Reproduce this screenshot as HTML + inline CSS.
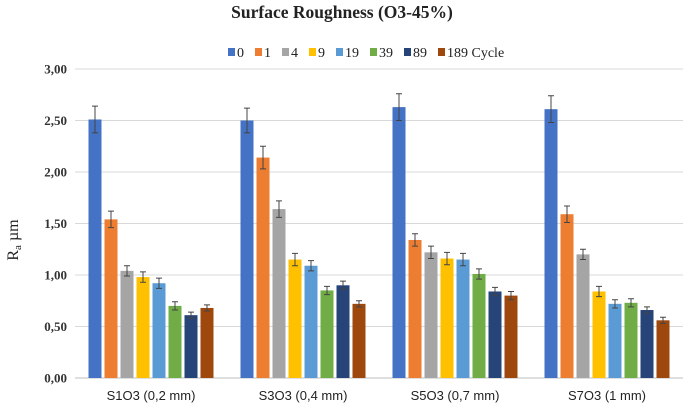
<!DOCTYPE html>
<html><head><meta charset="utf-8"><style>
body{margin:0;background:#fff;}
svg{display:block;font-family:"Liberation Serif",serif;}
</style></head><body>
<svg id="c" width="685" height="405">
<text x="342" y="18" text-anchor="middle" font-size="17.5" font-weight="bold" fill="#222">Surface Roughness (O3-45%)</text>
<g id="legend"></g>
<g id="grid"></g>
<g id="bars"></g>
<text transform="translate(18,240) rotate(-90)" text-anchor="middle" font-size="16" fill="#222">R<tspan font-size="11" dy="3">a</tspan><tspan dy="-3"> µm</tspan></text>
</svg>
<script>
const categories=["S1O3 (0,2 mm)","S3O3 (0,4 mm)","S5O3 (0,7 mm)","S7O3 (1 mm)"];
const seriesNames=["0","1","4","9","19","39","89","189 Cycle"];
const colors=["#4472c4","#ed7d31","#a5a5a5","#ffc000","#5b9bd5","#70ad47","#264478","#9e480e"];
const values=[
[2.51,1.54,1.04,0.98,0.92,0.70,0.61,0.68],
[2.50,2.14,1.64,1.15,1.09,0.85,0.90,0.72],
[2.63,1.34,1.22,1.16,1.15,1.01,0.84,0.80],
[2.61,1.59,1.20,0.84,0.72,0.73,0.66,0.56]];
const errors=[
[0.13,0.08,0.05,0.05,0.05,0.04,0.03,0.03],
[0.12,0.11,0.08,0.06,0.05,0.04,0.04,0.03],
[0.13,0.06,0.06,0.06,0.06,0.05,0.04,0.04],
[0.13,0.08,0.05,0.05,0.04,0.04,0.03,0.03]];
const yTicks=[0,0.5,1,1.5,2,2.5,3];
const yTickLabels=["0,00","0,50","1,00","1,50","2,00","2,50","3,00"];
const NS="http://www.w3.org/2000/svg";
const x0=75,x1=683,yTop=69,yBot=378,yMax=3;
const y=v=>yBot-(v/yMax)*(yBot-yTop);
const band=(x1-x0)/categories.length;
function mk(t,a,p){const e=document.createElementNS(NS,t);for(const k in a)e.setAttribute(k,a[k]);p.appendChild(e);return e;}
const grid=document.getElementById('grid');
yTicks.forEach((t,i)=>{
 const l=mk('line',{x1:x0,x2:x1,y1:y(t),y2:y(t),stroke:i==0?'#bfbfbf':'#d9d9d9','stroke-width':1},grid);
 
 
 const tx=mk('text',{x:67,y:y(t)+4.5,'text-anchor':'end','font-size':13,'font-weight':'bold',fill:'#333'},grid);
 tx.textContent=yTickLabels[i];
 
 
});
const bars=document.getElementById('bars');
const step=16,bw=13;
categories.forEach((c,ci)=>{
 const cx=x0+band*(ci+0.5);
 const start=cx-step*seriesNames.length/2+1.5;
 values[ci].forEach((v,si)=>{
  const bx=start+si*step;
  const r=mk('rect',{x:bx,y:y(v),width:bw,height:yBot-y(v),fill:colors[si]},bars);
  
  
  const e=errors[ci][si],mx=bx+bw/2;
  const g=mk('path',{d:`M${mx},${y(v+e)}V${y(v-e)}M${mx-3},${y(v+e)}H${mx+3}M${mx-3},${y(v-e)}H${mx+3}`,stroke:'#444','stroke-width':1,fill:'none'},bars);
  
  
 });
 const t=mk('text',{x:cx,y:400,'text-anchor':'middle','font-size':13,fill:'#222','font-family':'Liberation Sans, sans-serif'},bars);
 t.textContent=c;
 
 
});
const lg=document.getElementById('legend');
let lx=228;
seriesNames.forEach((n,i)=>{
 const r=mk('rect',{x:lx,y:48,width:7,height:8,fill:colors[i]},lg);
 
 
 const t=mk('text',{x:lx+9,y:57,'font-size':14,fill:'#222'},lg);
 t.textContent=n;
 
 
 lx+=9+t.getComputedTextLength()+11;
});
</script>
</body></html>
